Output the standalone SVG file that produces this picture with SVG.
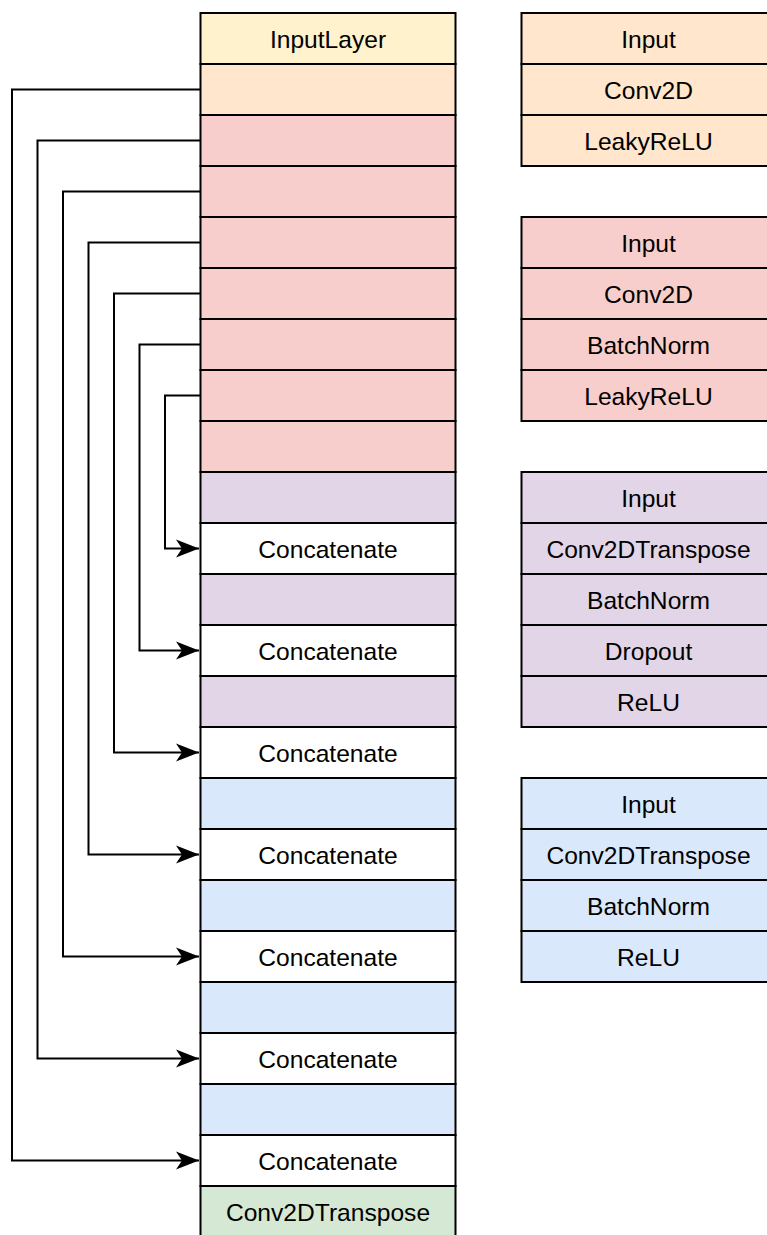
<svg xmlns="http://www.w3.org/2000/svg" width="767" height="1235" viewBox="0 0 767 1235">
  <style>
    rect { stroke: #000; stroke-width: 2; }
    .yel { fill: #fff2cc; }
    .org { fill: #ffe6cc; }
    .red { fill: #f8cecc; }
    .pur { fill: #e1d5e7; }
    .blu { fill: #dae8fc; }
    .grn { fill: #d5e8d4; }
    .wht { fill: #ffffff; }
    text { font-family: "Liberation Sans", Arial, Helvetica, sans-serif; font-size: 24.6px; fill: #000; text-anchor: middle; }
    .link { fill: none; stroke: #000; stroke-width: 2; }
  </style>
  <defs>
    <marker id="arrow" markerUnits="userSpaceOnUse" markerWidth="24" markerHeight="20" viewBox="0 0 24 20" refX="24" refY="10" orient="auto">
      <path d="M1,1 L24,10 L1,19 L7,10 Z" fill="#000"/>
    </marker>
  </defs>
  <rect width="767" height="1235" fill="#ffffff" style="stroke:none"/>

  <!-- skip connections -->
  <g id="connectors">
    <path class="link" d="M200,89.5 H12 V1160.5 H199" marker-end="url(#arrow)"/>
    <path class="link" d="M200,140.5 H37.5 V1058.5 H199" marker-end="url(#arrow)"/>
    <path class="link" d="M200,191.5 H63 V956.5 H199" marker-end="url(#arrow)"/>
    <path class="link" d="M200,242.5 H88.5 V854.5 H199" marker-end="url(#arrow)"/>
    <path class="link" d="M200,293.5 H114 V752.5 H199" marker-end="url(#arrow)"/>
    <path class="link" d="M200,344.5 H139.5 V650.5 H199" marker-end="url(#arrow)"/>
    <path class="link" d="M200,395.5 H165 V548.5 H199" marker-end="url(#arrow)"/>
  </g>

  <!-- main network column -->
  <g id="input-layer"><rect class="yel" x="200.5" y="13" width="255" height="51"/><text x="328" y="47.5">InputLayer</text></g>
  <g id="down-1"><rect class="org" x="200.5" y="64" width="255" height="51"/></g>
  <g id="down-2"><rect class="red" x="200.5" y="115" width="255" height="51"/></g>
  <g id="down-3"><rect class="red" x="200.5" y="166" width="255" height="51"/></g>
  <g id="down-4"><rect class="red" x="200.5" y="217" width="255" height="51"/></g>
  <g id="down-5"><rect class="red" x="200.5" y="268" width="255" height="51"/></g>
  <g id="down-6"><rect class="red" x="200.5" y="319" width="255" height="51"/></g>
  <g id="down-7"><rect class="red" x="200.5" y="370" width="255" height="51"/></g>
  <g id="down-8"><rect class="red" x="200.5" y="421" width="255" height="51"/></g>
  <g id="up-1"><rect class="pur" x="200.5" y="472" width="255" height="51"/></g>
  <g id="concat-1"><rect class="wht" x="200.5" y="523" width="255" height="51"/><text x="328" y="557.5">Concatenate</text></g>
  <g id="up-2"><rect class="pur" x="200.5" y="574" width="255" height="51"/></g>
  <g id="concat-2"><rect class="wht" x="200.5" y="625" width="255" height="51"/><text x="328" y="659.5">Concatenate</text></g>
  <g id="up-3"><rect class="pur" x="200.5" y="676" width="255" height="51"/></g>
  <g id="concat-3"><rect class="wht" x="200.5" y="727" width="255" height="51"/><text x="328" y="761.5">Concatenate</text></g>
  <g id="up-4"><rect class="blu" x="200.5" y="778" width="255" height="51"/></g>
  <g id="concat-4"><rect class="wht" x="200.5" y="829" width="255" height="51"/><text x="328" y="863.5">Concatenate</text></g>
  <g id="up-5"><rect class="blu" x="200.5" y="880" width="255" height="51"/></g>
  <g id="concat-5"><rect class="wht" x="200.5" y="931" width="255" height="51"/><text x="328" y="965.5">Concatenate</text></g>
  <g id="up-6"><rect class="blu" x="200.5" y="982" width="255" height="51"/></g>
  <g id="concat-6"><rect class="wht" x="200.5" y="1033" width="255" height="51"/><text x="328" y="1067.5">Concatenate</text></g>
  <g id="up-7"><rect class="blu" x="200.5" y="1084" width="255" height="51"/></g>
  <g id="concat-7"><rect class="wht" x="200.5" y="1135" width="255" height="51"/><text x="328" y="1169.5">Concatenate</text></g>
  <g id="output"><rect class="grn" x="200.5" y="1186" width="255" height="51"/><text x="328" y="1220.5">Conv2DTranspose</text></g>

  <!-- legend: first encoder block -->
  <g id="legend-first-down">
    <rect class="org" x="521.5" y="13" width="256" height="51"/><text x="648.5" y="47.5">Input</text>
    <rect class="org" x="521.5" y="64" width="256" height="51"/><text x="648.5" y="98.5">Conv2D</text>
    <rect class="org" x="521.5" y="115" width="256" height="51"/><text x="648.5" y="149.5">LeakyReLU</text>
  </g>
  <!-- legend: encoder block -->
  <g id="legend-down">
    <rect class="red" x="521.5" y="217" width="256" height="51"/><text x="648.5" y="251.5">Input</text>
    <rect class="red" x="521.5" y="268" width="256" height="51"/><text x="648.5" y="302.5">Conv2D</text>
    <rect class="red" x="521.5" y="319" width="256" height="51"/><text x="648.5" y="353.5">BatchNorm</text>
    <rect class="red" x="521.5" y="370" width="256" height="51"/><text x="648.5" y="404.5">LeakyReLU</text>
  </g>
  <!-- legend: decoder block with dropout -->
  <g id="legend-up-dropout">
    <rect class="pur" x="521.5" y="472" width="256" height="51"/><text x="648.5" y="506.5">Input</text>
    <rect class="pur" x="521.5" y="523" width="256" height="51"/><text x="648.5" y="557.5">Conv2DTranspose</text>
    <rect class="pur" x="521.5" y="574" width="256" height="51"/><text x="648.5" y="608.5">BatchNorm</text>
    <rect class="pur" x="521.5" y="625" width="256" height="51"/><text x="648.5" y="659.5">Dropout</text>
    <rect class="pur" x="521.5" y="676" width="256" height="51"/><text x="648.5" y="710.5">ReLU</text>
  </g>
  <!-- legend: decoder block -->
  <g id="legend-up">
    <rect class="blu" x="521.5" y="778" width="256" height="51"/><text x="648.5" y="812.5">Input</text>
    <rect class="blu" x="521.5" y="829" width="256" height="51"/><text x="648.5" y="863.5">Conv2DTranspose</text>
    <rect class="blu" x="521.5" y="880" width="256" height="51"/><text x="648.5" y="914.5">BatchNorm</text>
    <rect class="blu" x="521.5" y="931" width="256" height="51"/><text x="648.5" y="965.5">ReLU</text>
  </g>
</svg>
